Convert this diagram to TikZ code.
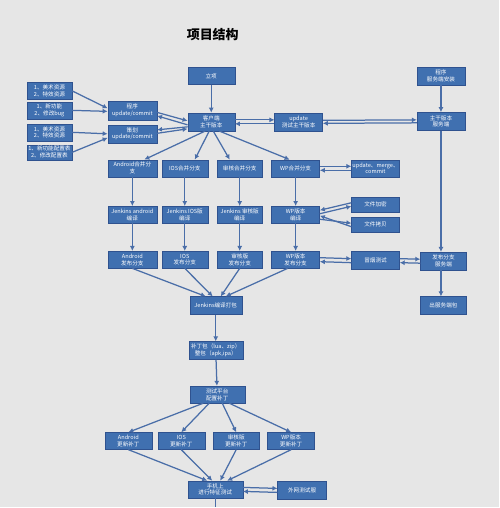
\documentclass[tikz,border=0pt]{standalone}
\usepackage{fontspec}
\setmainfont{Noto Sans CJK SC}
\usepackage{xcolor}
\usetikzlibrary{arrows.meta,positioning}
\definecolor{bgc}{HTML}{E6E6E6}
\definecolor{boxc}{HTML}{4070B0}
\definecolor{edgec}{HTML}{2F528F}
\definecolor{linkc}{HTML}{4A6EA8}

\begin{document}
\begin{tikzpicture}[x=1pt,y=-1pt,
box/.style={draw=edgec, fill=boxc, text=white, align=center, minimum width=47pt, minimum height=17pt, inner sep=0.5pt, font=\fontsize{5.6}{6.9}\selectfont},
link/.style={draw=linkc, line width=1.25pt, -{Latex[length=5pt,width=5pt]}}]

\fill[bgc] (0,0) rectangle (500,508);

\node[font=\bfseries\fontsize{13}{14}\selectfont] (title) at (213,35) {项目结构};

\node[box, minimum width=45pt] (l1) at (49.5,91) {1、美术资源\\2、特效资源};
\node[box, minimum width=45pt] (l2) at (49.5,110.5) {1、新功能\\2、修改bug};
\node[box, minimum width=45pt] (l3) at (49.5,132.5) {1、美术资源\\2、特效资源};
\node[box, minimum width=45pt, minimum height=15pt] (l4) at (49.5,152.5) {1、新功能配置表\\2、修改配置表};

\node[box, minimum width=49pt, minimum height=19pt] (prog) at (132.5,110.5) {程序\\update/commit};
\node[box, minimum width=49pt, minimum height=18pt] (plan) at (132.5,134) {策划\\update/commit};

\node[box] (lixiang) at (211.5,76) {立项};
\node[box, minimum height=18pt] (client) at (211.5,122) {客户端\\主干版本};
\node[box, minimum width=48pt, minimum height=18pt] (upd) at (299,122) {update\\测试主干版本};
\node[box, minimum width=48pt, minimum height=18pt] (srvprog) at (441.5,76) {程序\\服务端安装};
\node[box, minimum width=48pt, minimum height=18pt] (srvmain) at (441.5,121.5) {主干版本\\服务端};

\node[box, minimum width=49pt] (mand) at (132.5,168.5) {Android合并分\\支};
\node[box, minimum width=46pt] (mios) at (185,168.5) {IOS合并分支};
\node[box, minimum width=46pt] (mchk) at (240,168.5) {审核合并分支};
\node[box, minimum width=48pt] (mwp) at (296,168.5) {WP合并分支};
\node[box, minimum width=48pt] (umc) at (376,168.5) {update、merge、\\commit};

\node[box, minimum width=49pt] (jand) at (132.5,215) {Jenkins android\\编译};
\node[box, minimum width=46pt] (jios) at (185,215) {Jenkins IOS版\\编译};
\node[box, minimum width=46pt] (jchk) at (240,215) {Jenkins 审核版\\编译};
\node[box, minimum width=48pt] (jwp) at (296,215) {WP版本\\编译};
\node[box, minimum width=48pt, minimum height=15pt] (enc) at (376,204.5) {文件加密};
\node[box, minimum width=48pt, minimum height=15pt] (copy) at (376,225) {文件拷贝};

\node[box, minimum width=49pt] (rand) at (132.5,260) {Android\\发布分支};
\node[box, minimum width=46pt] (rios) at (185,260) {IOS\\发布分支};
\node[box, minimum width=46pt] (rchk) at (240,260) {审核版\\发布分支};
\node[box, minimum width=48pt] (rwp) at (296,260) {WP版本\\发布分支};
\node[box, minimum width=48pt, minimum height=18pt] (smoke) at (376,261) {冒烟测试};
\node[box, minimum width=46pt, minimum height=18pt] (srvrel) at (444,261.5) {发布分支\\服务端};
\node[box, minimum width=46pt, minimum height=18pt] (srvpkg) at (444,306) {出服务端包};

\node[box, minimum width=52pt, minimum height=18pt] (jpack) at (216,306) {Jenkins编译打包};
\node[box, minimum width=54pt, minimum height=18pt] (patch) at (216,351) {补丁包（lua、zip）\\整包（apk,ipa）};
\node[box, minimum width=55pt] (tplat) at (217.5,395) {测试平台\\配置补丁};

\node[box] (uand) at (128.5,441.5) {Android\\更新补丁};
\node[box] (uios) at (181.5,441.5) {IOS\\更新补丁};
\node[box] (uchk) at (236.5,441.5) {审核版\\更新补丁};
\node[box] (uwp) at (291.5,441.5) {WP版本\\更新补丁};

\node[box, minimum width=55pt] (phone) at (215.5,490) {手机上\\进行特征测试};
\node[box, minimum width=49pt, minimum height=18pt] (outer) at (302.5,491) {外网测试服};
\coordinate (down) at (215.5,508);

\path[link] (l1.east) -- ([yshift=2pt]prog.west);
\path[link] (l2.east) -- ([yshift=-1pt]prog.west);
\path[link] (l3.east) -- (plan.west);
\path[link] (l4.east) -- ([yshift=-4pt]plan.west);

\path[link] ([yshift=-2pt]prog.east) -- ([yshift=1pt]client.west);
\path[link] ([yshift=-3pt]client.west) -- ([yshift=-5.5pt]prog.east);
\path[link] ([yshift=-5pt]client.west) -- ([yshift=4pt]plan.east);
\path[link] ([yshift=0.5pt]plan.east) -- ([yshift=-7pt]client.west);

\path[link] (lixiang) -- (client);
\path[link] ([yshift=2pt]client.east) -- ([yshift=2pt]upd.west);
\path[link] ([yshift=-2pt]upd.west) -- ([yshift=-2pt]client.east);
\path[link] ([yshift=1.5pt]upd.east) -- ([yshift=1.5pt]srvmain.west);
\path[link] ([yshift=-1.5pt]srvmain.west) -- ([yshift=-1.5pt]upd.east);
\path[link] (srvprog) -- (srvmain);
\path[link] (srvmain.south) -- (srvmain.south |- srvrel.north);

\path[link] ([xshift=-6pt]client.south) -- ([xshift=12pt]mand.north);
\path[link] ([xshift=-2pt]client.south) -- ([xshift=10pt]mios.north);
\path[link] ([xshift=2pt]client.south) -- ([xshift=-10pt]mchk.north);
\path[link] ([xshift=8pt]client.south) -- ([xshift=-6pt]mwp.north);

\path[link] ([yshift=2pt]mwp.east) -- ([yshift=2pt]umc.west);
\path[link] ([yshift=-2pt]umc.west) -- ([yshift=-2pt]mwp.east);

\path[link] (mand) -- (jand);
\path[link] (mios) -- (jios);
\path[link] (mchk) -- (jchk);
\path[link] (mwp) -- (jwp);

\path[link] ([yshift=1pt]jwp.east) -- ([yshift=-2pt]enc.west);
\path[link] ([yshift=1.5pt]enc.west) -- ([yshift=4.5pt]jwp.east);
\path[link] ([yshift=-4.5pt]jwp.east) -- ([yshift=1.5pt]copy.west);
\path[link] ([yshift=-2pt]copy.west) -- ([yshift=-1pt]jwp.east);

\path[link] (jand) -- (rand);
\path[link] (jios) -- (rios);
\path[link] (jchk) -- (rchk);
\path[link] (jwp) -- (rwp);

\path[link] ([yshift=2pt]rwp.east) -- ([yshift=2pt]smoke.west);
\path[link] ([yshift=-2pt]smoke.west) -- ([yshift=-2pt]rwp.east);
\path[link] ([yshift=2pt]smoke.east) -- ([yshift=2pt]srvrel.west);
\path[link] ([yshift=-2pt]srvrel.west) -- ([yshift=-2pt]smoke.east);
\path[link] (srvmain.south |- srvrel.south) -- (srvmain.south |- srvpkg.north);

\path[link] (rand.south) -- ([xshift=-10pt]jpack.north);
\path[link] (rios.south) -- ([xshift=-3pt]jpack.north);
\path[link] (rchk.south) -- ([xshift=5pt]jpack.north);
\path[link] ([xshift=-8pt]rwp.south) -- ([xshift=10pt]jpack.north);

\path[link] (jpack) -- (patch);
\path[link] (patch) -- (tplat);

\path[link] ([xshift=-14pt]tplat.south) -- (uand.north);
\path[link] ([xshift=-8pt]tplat.south) -- (uios.north);
\path[link] ([xshift=5pt]tplat.south) -- (uchk.north);
\path[link] ([xshift=12pt]tplat.south) -- (uwp.north);

\path[link] (uand.south) -- ([xshift=-8pt]phone.north);
\path[link] (uios.south) -- ([xshift=-3pt]phone.north);
\path[link] (uchk.south) -- ([xshift=5pt]phone.north);
\path[link] (uwp.south) -- ([xshift=12pt]phone.north);

\path[link] ([yshift=2pt]phone.east) -- ([yshift=2pt]outer.west);
\path[link] ([yshift=-2pt]outer.west) -- ([yshift=-2pt]phone.east);
\path[draw=linkc, line width=1.25pt] (phone) -- (down);

\end{tikzpicture}
\end{document}
